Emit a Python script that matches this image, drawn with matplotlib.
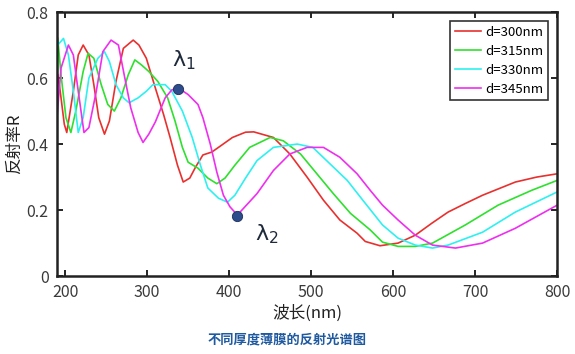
import matplotlib
matplotlib.use("Agg")
import matplotlib.pyplot as plt

plt.rcParams['font.family'] = ['Noto Sans CJK SC', 'DejaVu Sans']
plt.rcParams['mathtext.default'] = 'regular'

# 读图得到的数据 (波长 nm, 反射率)
x_300 = [191, 194, 199, 202, 210, 216, 222, 229, 235, 241, 248, 254, 262, 271, 283, 290, 299,
         310, 320, 328, 337, 344, 352, 359, 368, 379, 391, 404, 420, 430, 454, 474, 495, 515,
         535, 556, 566, 584, 606, 627, 647, 667, 688, 709, 729, 749, 775, 800]
r_300 = [0.61, 0.56, 0.46, 0.435, 0.56, 0.67, 0.70, 0.67, 0.58, 0.48, 0.43, 0.47, 0.59, 0.69,
         0.715, 0.70, 0.66, 0.57, 0.49, 0.42, 0.336, 0.285, 0.297, 0.33, 0.367, 0.376, 0.397,
         0.42, 0.436, 0.437, 0.42, 0.37, 0.30, 0.23, 0.17, 0.13, 0.105, 0.092, 0.10, 0.124,
         0.16, 0.194, 0.22, 0.245, 0.265, 0.285, 0.30, 0.31]

x_315 = [191, 195, 201, 207, 213, 222, 228, 235, 244, 252, 260, 268, 277, 285, 293, 302, 313,
         325, 334, 343, 350, 362, 374, 385, 395, 407, 425, 450, 466, 487, 507, 527, 548, 572,
         587, 606, 627, 648, 688, 728, 769, 800]
r_315 = [0.72, 0.61, 0.48, 0.435, 0.50, 0.62, 0.675, 0.66, 0.58, 0.52, 0.50, 0.54, 0.61, 0.655,
         0.64, 0.62, 0.59, 0.54, 0.47, 0.39, 0.345, 0.327, 0.297, 0.28, 0.297, 0.336, 0.39,
         0.42, 0.41, 0.37, 0.31, 0.25, 0.19, 0.14, 0.103, 0.09, 0.09, 0.10, 0.155, 0.215,
         0.26, 0.29]

x_330 = [191, 198, 204, 210, 216, 222, 229, 240, 248, 254, 262, 271, 278, 289, 299, 307, 322,
         330, 343, 355, 365, 374, 387, 398, 407, 420, 434, 454, 483, 502, 523, 544, 563, 587,
         606, 627, 648, 667, 709, 749, 800]
r_330 = [0.70, 0.72, 0.67, 0.56, 0.435, 0.48, 0.60, 0.66, 0.68, 0.65, 0.58, 0.54, 0.525, 0.54,
         0.56, 0.58, 0.58, 0.56, 0.50, 0.42, 0.336, 0.267, 0.236, 0.224, 0.245, 0.297, 0.35,
         0.39, 0.40, 0.39, 0.34, 0.29, 0.23, 0.155, 0.115, 0.094, 0.085, 0.094, 0.133, 0.194,
         0.255]

x_345 = [190, 195, 204, 210, 216, 223, 229, 238, 246, 256, 265, 272, 280, 289, 295, 302, 310,
         322, 330, 338, 350, 362, 368, 377, 385, 393, 401, 410, 434, 454, 474, 495, 515, 535,
         556, 572, 587, 606, 627, 648, 676, 709, 749, 800]
r_345 = [0.48, 0.63, 0.70, 0.67, 0.56, 0.435, 0.45, 0.56, 0.68, 0.715, 0.70, 0.61, 0.51, 0.435,
         0.405, 0.43, 0.467, 0.54, 0.564, 0.57, 0.55, 0.52, 0.48, 0.40, 0.315, 0.245, 0.21,
         0.185, 0.25, 0.32, 0.37, 0.39, 0.39, 0.36, 0.31, 0.26, 0.215, 0.17, 0.124, 0.094,
         0.085, 0.10, 0.145, 0.215]

labels = ['d=300nm', 'd=315nm', 'd=330nm', 'd=345nm']
colors = ['#e8312f', '#2fe02f', '#2ff0f0', '#ee2fee']

# λ1, λ2 标记点
lam_x = [338, 410]
lam_y = [0.567, 0.183]
lam_txt = [r'$\lambda_1$', r'$\lambda_2$']

fig = plt.figure(figsize=(5.75, 3.54), dpi=100)
ax = fig.add_axes([0.099, 0.22, 0.87, 0.746])

for xs, ys, lab, c in zip([x_300, x_315, x_330, x_345], [r_300, r_315, r_330, r_345], labels, colors):
    ax.plot(xs, ys, color=c, lw=1.2, label=lab)

ax.scatter(lam_x, lam_y, s=55, color='#2e4d8c', edgecolor='#1c2f5a', linewidth=0.6, zorder=5)
ax.text(lam_x[0] - 8, lam_y[0] + 0.05, lam_txt[0], fontsize=16, color='#1f2a3a',
        family='DejaVu Sans', va='bottom')
ax.text(lam_x[1] + 22, lam_y[1] - 0.02, lam_txt[1], fontsize=16, color='#1f2a3a',
        family='DejaVu Sans', va='top')

ax.set_xlim(190, 800)
ax.set_ylim(0, 0.8)
ax.set_xticks([200, 300, 400, 500, 600, 700, 800])
ax.set_yticks([0, 0.2, 0.4, 0.6, 0.8])
ax.set_yticklabels(['0', '0.2', '0.4', '0.6', '0.8'])
ax.tick_params(direction='in', length=4, width=1.2, top=True, right=True,
               labelsize=11.5, labelcolor='#3a3a3a', pad=6)
for s in ax.spines.values():
    s.set_linewidth(1.8)
    s.set_color('#222222')

ax.set_xlabel('波长(nm)', fontsize=12, color='#222222', labelpad=2)
ax.set_ylabel('反射率R', fontsize=12, color='#222222', labelpad=3)

leg = ax.legend(loc='upper right', fontsize=9.5, frameon=True, fancybox=False,
                handlelength=2.0, handletextpad=0.3, borderpad=0.35, labelspacing=0.45,
                borderaxespad=0.7)
leg.get_frame().set_edgecolor('black')
leg.get_frame().set_linewidth(1.2)

fig.text(0.5, 0.03, '不同厚度薄膜的反射光谱图', ha='center', fontsize=9.5,
         color='#1f5aa0', fontweight='bold')

fig.savefig('out.png', dpi=100)
